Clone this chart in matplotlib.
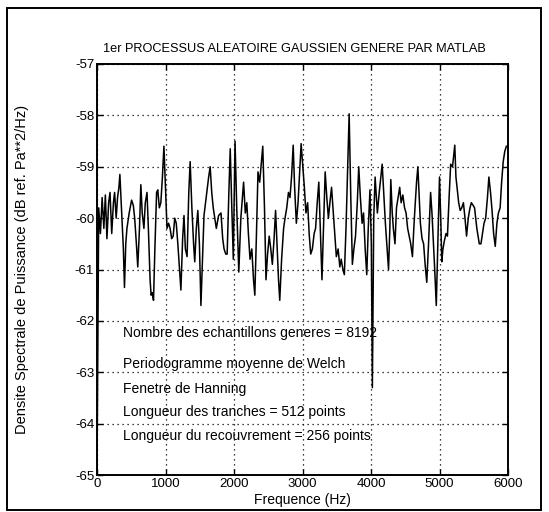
import matplotlib
matplotlib.use("Agg")
import matplotlib.pyplot as plt
from matplotlib.patches import Rectangle

# frequencies (Hz) and PSD (dB)
freq = [0, 25, 50, 75, 100, 122, 145, 170, 190, 215, 240, 257, 280, 300, 320, 334,
        360, 385, 401, 420, 437, 470, 505, 530, 550, 575, 595, 620, 640, 660, 685,
        705, 730, 750, 775, 790, 806, 825, 845, 870, 887, 910, 932, 955, 977, 1000,
        1022, 1045, 1067, 1090, 1112, 1135, 1157, 1180, 1200, 1225, 1250, 1270, 1290,
        1315, 1340, 1360, 1385, 1410, 1427, 1450, 1472, 1495, 1517, 1540, 1562, 1585,
        1607, 1630, 1652, 1675, 1697, 1720, 1742, 1775, 1810, 1835, 1855, 1880, 1900,
        1925, 1945, 1968, 1990, 2015, 2040, 2070, 2100, 2140, 2165, 2187, 2210, 2234,
        2260, 2285, 2304, 2330, 2350, 2375, 2400, 2420, 2445, 2467, 2490, 2514, 2537,
        2560, 2585, 2607, 2630, 2650, 2668, 2695, 2724, 2745, 2770, 2795, 2817, 2840,
        2864, 2885, 2910, 2935, 2955, 2980, 3005, 3027, 3050, 3075, 3097, 3120, 3144,
        3170, 3191, 3215, 3238, 3260, 3284, 3310, 3331, 3355, 3378, 3400, 3424, 3450,
        3470, 3494, 3520, 3545, 3565, 3590, 3611, 3635, 3660, 3681, 3705, 3728, 3750,
        3774, 3800, 3821, 3845, 3870, 3891, 3915, 3938, 3960, 3985, 4005, 4020, 4040,
        4060, 4093, 4120, 4163, 4190, 4210, 4235, 4256, 4275, 4289, 4310, 4326, 4350,
        4372, 4395, 4419, 4440, 4465, 4490, 4512, 4535, 4558, 4580, 4605, 4625, 4642,
        4665, 4684, 4705, 4721, 4745, 4768, 4790, 4814, 4840, 4870, 4890, 4907, 4930,
        4953, 4975, 5000, 5020, 5033, 5050, 5070, 5095, 5116, 5140, 5163, 5190, 5205,
        5223, 5240, 5256, 5280, 5302, 5325, 5349, 5372, 5395, 5420, 5445, 5465, 5490,
        5512, 5545, 5581, 5605, 5628, 5650, 5674, 5700, 5721, 5745, 5767, 5790, 5814,
        5838, 5860, 5885, 5907, 5930, 5953, 5977]

psd = [-65.0, -59.8, -60.3, -59.6, -60.2, -59.55, -60.4, -59.7, -59.5, -60.3, -59.7,
       -59.5, -60.0, -59.6, -59.4, -59.15, -59.9, -60.6, -61.35, -60.5, -60.2, -59.9,
       -59.65, -59.75, -60.0, -60.5, -60.95, -60.2, -59.35, -59.9, -60.2, -59.7, -59.5,
       -60.2, -61.2, -61.5, -61.45, -61.6, -60.6, -59.5, -59.45, -59.8, -59.7, -59.2,
       -58.6, -59.4, -60.2, -60.1, -60.2, -60.4, -60.35, -60.0, -60.1, -60.5, -60.9,
       -61.4, -60.4, -59.95, -60.6, -60.75, -59.5, -58.9, -59.8, -60.5, -60.85, -60.2,
       -59.85, -60.5, -61.7, -60.8, -59.95, -59.7, -59.45, -59.2, -59.0, -59.5, -59.8,
       -60.0, -60.2, -59.95, -59.9, -60.4, -60.6, -60.7, -60.7, -59.5, -58.65, -59.8,
       -60.8, -58.5, -59.8, -61.05, -60.0, -59.3, -59.9, -59.7, -60.3, -60.8, -60.6,
       -61.2, -61.5, -60.2, -59.1, -59.3, -58.9, -58.6, -59.8, -61.2, -60.7, -60.35,
       -60.6, -60.9, -60.4, -59.85, -60.6, -61.2, -61.6, -60.8, -60.2, -60.0, -59.8,
       -59.5, -59.6, -59.2, -58.58, -59.4, -60.1, -59.7, -59.2, -58.55, -59.0, -59.4,
       -59.9, -59.7, -60.3, -60.7, -60.6, -60.3, -60.2, -59.7, -59.3, -60.2, -61.2,
       -60.0, -59.1, -59.6, -60.0, -59.7, -59.4, -59.9, -60.3, -60.75, -60.6, -60.95,
       -60.8, -61.0, -61.1, -60.2, -59.0, -57.97, -59.6, -60.9, -60.6, -60.35, -59.7,
       -59.0, -59.6, -60.1, -59.9, -60.6, -61.1, -60.2, -59.45, -60.5, -63.3, -60.0,
       -59.2, -59.9, -59.5, -58.95, -59.6, -60.1, -60.6, -61.0, -60.2, -59.25, -59.9,
       -60.2, -60.5, -59.8, -59.6, -59.4, -59.7, -59.55, -59.8, -59.9, -60.2, -60.35,
       -60.5, -60.75, -60.2, -59.8, -59.3, -59.0, -59.6, -60.1, -60.4, -60.5, -60.9,
       -61.25, -60.5, -59.5, -59.9, -60.35, -61.0, -61.7, -60.5, -59.2, -60.1, -60.85,
       -60.6, -60.45, -60.3, -60.35, -59.6, -58.95, -59.0, -58.8, -58.58, -59.2, -59.4,
       -59.7, -59.85, -59.8, -59.7, -60.0, -60.35, -60.0, -59.8, -59.7, -59.75, -59.8,
       -60.2, -60.5, -60.5, -60.3, -60.1, -60.0, -59.6, -59.2, -59.5, -59.85, -60.3,
       -60.55, -60.1, -59.9, -59.8, -59.3, -58.9, -58.7, -58.6]

xticks = [0, 1000, 2000, 3000, 4000, 5000, 6000]
yticks = [-65, -64, -63, -62, -61, -60, -59, -58, -57]

notes = ["Nombre des echantillons generes = 8192",
         "Periodogramme moyenne de Welch",
         "Fenetre de Hanning",
         "Longueur des tranches = 512 points",
         "Longueur du recouvrement = 256 points"]
note_y = [-62.23, -62.84, -63.32, -63.77, -64.24]

plt.rcParams['font.family'] = ['Liberation Sans', 'DejaVu Sans']
plt.rcParams['axes.unicode_minus'] = False

fig = plt.figure(figsize=(5.49, 5.12), dpi=100)
ax = fig.add_axes([97/549, 1 - 475/512, 411/549, 411/512])

ax.plot(freq, psd, color='black', lw=1.1)

ax.set_xlim(0, 6000)
ax.set_ylim(-65, -57)
ax.set_xticks(xticks)
ax.set_yticks(yticks)
ax.tick_params(direction='in', length=4, labelsize=9.5, top=True, right=True, width=1, pad=2)
ax.grid(True, linestyle=(0, (1, 3)), color='black', lw=0.9)
for s in ax.spines.values():
    s.set_linewidth(1.4)

ax.set_title("1er PROCESSUS ALEATOIRE GAUSSIEN GENERE PAR MATLAB", fontsize=9.2, pad=9, x=0.48)
ax.set_xlabel("Frequence (Hz)", fontsize=10, labelpad=2)
ax.set_ylabel("Densite Spectrale de Puissance (dB ref. Pa**2/Hz)", fontsize=10.5)
ax.yaxis.set_label_coords(-0.165, 0.5)

for t, y in zip(notes, note_y):
    ax.text(380, y, t, fontsize=10, va='center', ha='left')

# outer frame around the whole figure
fig.patches.append(Rectangle((7/549, 2/512), 534/549, 502/512, transform=fig.transFigure,
                             fill=False, edgecolor='black', lw=1.4))

fig.savefig("out.png", dpi=100)
